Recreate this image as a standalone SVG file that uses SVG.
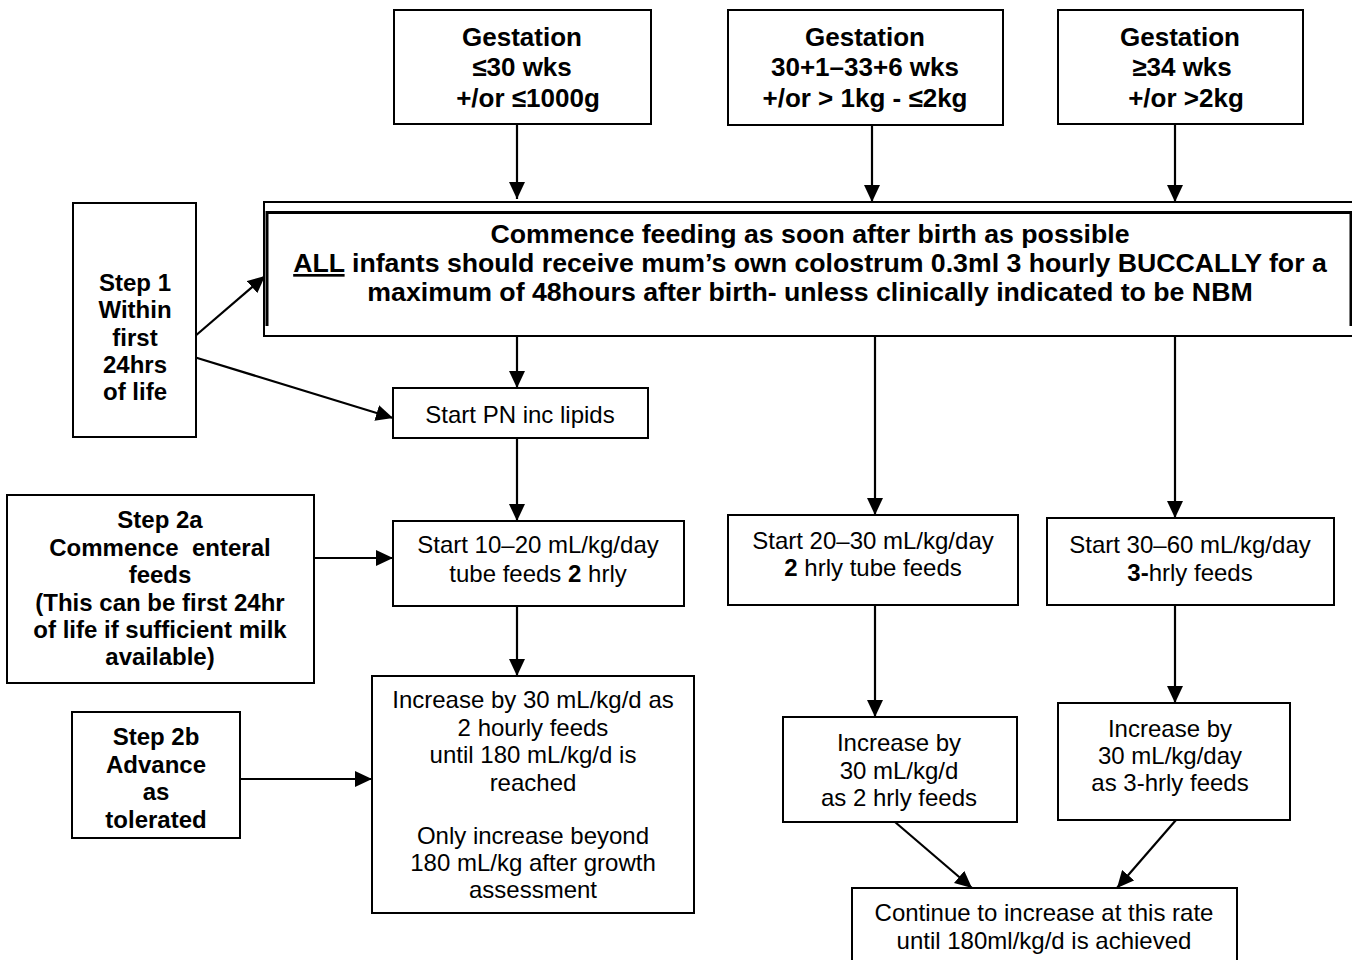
<svg xmlns="http://www.w3.org/2000/svg" width="1352" height="960" viewBox="0 0 1352 960">
<defs>
<marker id="ah" markerUnits="userSpaceOnUse" markerWidth="18" markerHeight="16" refX="17" refY="8" orient="auto">
<path d="M0,0 L17,8 L0,16 Z" fill="#000"/>
</marker>
<style>
.box{fill:#fff;stroke:#000;stroke-width:2}
.b{font-family:"Liberation Sans",Arial,sans-serif;font-weight:bold;text-anchor:middle;fill:#000}
.b26{font-size:26px}
.b27{font-size:26.7px}
.b24{font-size:24px}
.r{font-family:"Liberation Sans",Arial,sans-serif;font-size:24px;text-anchor:middle;fill:#000}
.c{stroke:#000;stroke-width:2.2;fill:none;marker-end:url(#ah)}
</style>
</defs>
<rect width="1352" height="960" fill="#fff"/>

<g id="connectors">
<line class="c" x1="517" y1="124" x2="517" y2="199"/>
<line class="c" x1="872" y1="125" x2="872" y2="202"/>
<line class="c" x1="1175" y1="124" x2="1175" y2="202"/>
<line class="c" x1="194" y1="337" x2="265" y2="276"/>
<line class="c" x1="194" y1="357" x2="393" y2="418"/>
<line class="c" x1="517" y1="336" x2="517" y2="388"/>
<line class="c" x1="517" y1="438" x2="517" y2="521"/>
<line class="c" x1="314" y1="558" x2="393" y2="558"/>
<line class="c" x1="517" y1="606" x2="517" y2="676"/>
<line class="c" x1="240" y1="779" x2="372" y2="779"/>
<line class="c" x1="875" y1="336" x2="875" y2="515"/>
<line class="c" x1="1175" y1="336" x2="1175" y2="518"/>
<line class="c" x1="875" y1="605" x2="875" y2="717"/>
<line class="c" x1="1175" y1="605" x2="1175" y2="703"/>
<line class="c" x1="895" y1="822" x2="972" y2="888"/>
<line class="c" x1="1176" y1="820" x2="1117" y2="888"/>
</g>

<g id="g1">
<rect class="box" x="394" y="10" width="257" height="114"/>
<text class="b b26" x="522" y="46">Gestation</text>
<text class="b b26" x="522" y="76">≤30 wks</text>
<text class="b b26" x="528" y="107">+/or ≤1000g</text>
</g>
<g id="g2">
<rect class="box" x="728" y="10" width="275" height="115"/>
<text class="b b26" x="865" y="46">Gestation</text>
<text class="b b26" x="865" y="76">30+1–33+6 wks</text>
<text class="b b26" x="865" y="107">+/or &gt; 1kg - ≤2kg</text>
</g>
<g id="g3">
<rect class="box" x="1058" y="10" width="245" height="114"/>
<text class="b b26" x="1180" y="46">Gestation</text>
<text class="b b26" x="1182" y="76">≥34 wks</text>
<text class="b b26" x="1186" y="107">+/or &gt;2kg</text>
</g>

<g id="commence">
<rect class="box" x="264" y="202" width="1100" height="134"/>
<path d="M267,326 V212.5 H1351 V326" fill="none" stroke="#000" stroke-width="3"/>
<text class="b b27" x="810" y="243">Commence feeding as soon after birth as possible</text>
<text class="b b27" x="810" y="272"><tspan text-decoration="underline">ALL</tspan> infants should receive mum’s own colostrum 0.3ml 3 hourly BUCCALLY for a</text>
<text class="b b27" x="810" y="301">maximum of 48hours after birth- unless clinically indicated to be NBM</text>
</g>

<g id="step1">
<rect class="box" x="73" y="203" width="123" height="234"/>
<text class="b b24" x="135" y="291">Step 1</text>
<text class="b b24" x="135" y="318">Within</text>
<text class="b b24" x="135" y="346">first</text>
<text class="b b24" x="135" y="373">24hrs</text>
<text class="b b24" x="135" y="400">of life</text>
</g>

<g id="pn">
<rect class="box" x="393" y="388" width="255" height="50"/>
<text class="r" x="520" y="423">Start PN inc lipids</text>
</g>

<g id="step2a">
<rect class="box" x="7" y="495" width="307" height="188"/>
<text class="b b24" x="160" y="528">Step 2a</text>
<text class="b b24" x="160" y="556" xml:space="preserve">Commence  enteral</text>
<text class="b b24" x="160" y="583">feeds</text>
<text class="b b24" x="160" y="611">(This can be first 24hr</text>
<text class="b b24" x="160" y="638">of life if sufficient milk</text>
<text class="b b24" x="160" y="665">available)</text>
</g>

<g id="start1020">
<rect class="box" x="393" y="521" width="291" height="85"/>
<text class="r" x="538" y="553">Start 10–20 mL/kg/day</text>
<text class="r" x="538" y="582">tube feeds <tspan font-weight="bold">2</tspan> hrly</text>
</g>

<g id="step2b">
<rect class="box" x="72" y="712" width="168" height="126"/>
<text class="b b24" x="156" y="745">Step 2b</text>
<text class="b b24" x="156" y="773">Advance</text>
<text class="b b24" x="156" y="800">as</text>
<text class="b b24" x="156" y="828">tolerated</text>
</g>

<g id="increase1">
<rect class="box" x="372" y="676" width="322" height="237"/>
<text class="r" x="533" y="708">Increase by 30 mL/kg/d as</text>
<text class="r" x="533" y="736">2 hourly feeds</text>
<text class="r" x="533" y="763">until 180 mL/kg/d is</text>
<text class="r" x="533" y="791">reached</text>
<text class="r" x="533" y="844">Only increase beyond</text>
<text class="r" x="533" y="871">180 mL/kg after growth</text>
<text class="r" x="533" y="898">assessment</text>
</g>

<g id="start2030">
<rect class="box" x="728" y="515" width="290" height="90"/>
<text class="r" x="873" y="549">Start 20–30 mL/kg/day</text>
<text class="r" x="873" y="576"><tspan font-weight="bold">2</tspan> hrly tube feeds</text>
</g>

<g id="start3060">
<rect class="box" x="1047" y="518" width="287" height="87"/>
<text class="r" x="1190" y="553">Start 30–60 mL/kg/day</text>
<text class="r" x="1190" y="581"><tspan font-weight="bold">3-</tspan>hrly feeds</text>
</g>

<g id="increase2">
<rect class="box" x="783" y="717" width="234" height="105"/>
<text class="r" x="899" y="751">Increase by</text>
<text class="r" x="899" y="779">30 mL/kg/d</text>
<text class="r" x="899" y="806">as 2 hrly feeds</text>
</g>

<g id="increase3">
<rect class="box" x="1058" y="703" width="232" height="117"/>
<text class="r" x="1170" y="737">Increase by</text>
<text class="r" x="1170" y="764">30 mL/kg/day</text>
<text class="r" x="1170" y="791">as 3-hrly feeds</text>
</g>

<g id="continue">
<rect class="box" x="852" y="888" width="385" height="90"/>
<text class="r" x="1044" y="921">Continue to increase at this rate</text>
<text class="r" x="1044" y="949">until 180ml/kg/d is achieved</text>
</g>
</svg>
